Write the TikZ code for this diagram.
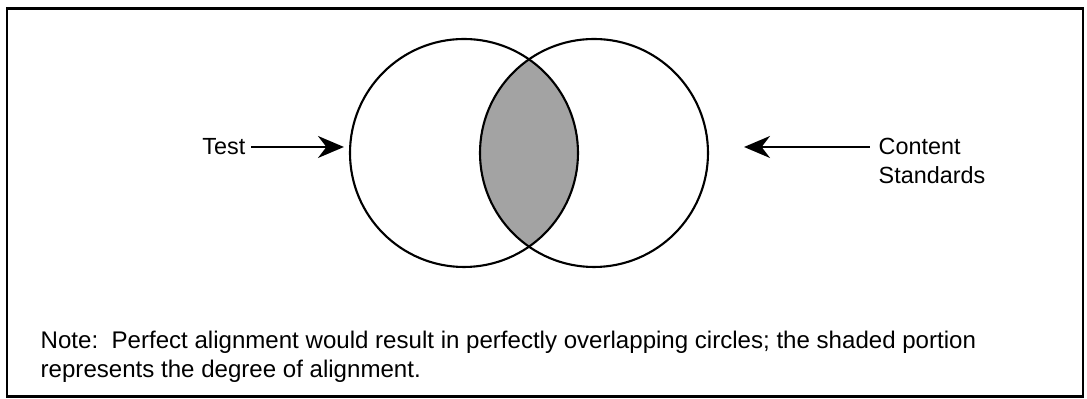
\documentclass[tikz,border=0pt]{standalone}
\usepackage{fontspec}
\setmainfont{Liberation Sans}
\usetikzlibrary{arrows.meta}

\begin{document}
\begin{tikzpicture}[
  lbl/.style={inner sep=0pt, font=\fontsize{6.65}{8.4}\selectfont},
  note/.style={inner sep=0pt, align=left, font=\fontsize{6.85}{8.25}\selectfont},
  ring/.style={circle, draw, line width=0.6pt, minimum size=2.28cm,
               inner sep=0pt},
  arr/.style={-{Stealth[length=2.6mm, width=2.2mm]}, line width=0.6pt}
]
  \useasboundingbox (0,0) rectangle (10.87,3.99);

  % Frame
  \draw[line width=0.85pt] (0.07,0.02) rectangle (10.83,3.90);

  % Overlap
  \begin{scope}
    \clip (4.64,2.46) circle (1.14);
    \fill[black!36] (5.94,2.46) circle (1.14);
  \end{scope}

  % Circles
  \node[ring] (t) at (4.64,2.46) {};
  \node[ring] (s) at (5.94,2.46) {};

  % Labels
  \node[lbl, anchor=east] (test) at (2.46,2.52) {Test};
  \node[lbl, anchor=north west, align=left] (cs) at (8.78,2.62)
    {Content\\Standards};
  \draw[arr, shorten <=0.5mm, shorten >=0.5mm]
    (test.east) -- (test.east -| t.west);
  \draw[arr, shorten <=0.8mm, shorten >=3.5mm]
    (cs.west |- test.east) -- (s.east |- test.east);

  % Note
  \node[note, anchor=north west] (n) at (0.40,0.69)
    {Note:\ \ Perfect alignment would result in perfectly overlapping circles; the shaded portion\\
     represents the degree of alignment.};
\end{tikzpicture}
\end{document}
